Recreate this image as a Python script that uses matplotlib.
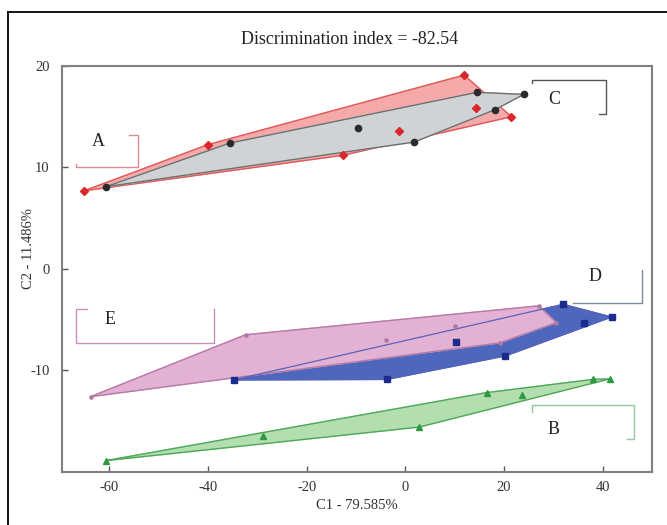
import matplotlib
matplotlib.use("Agg")
import matplotlib.pyplot as plt
from matplotlib.lines import Line2D
import numpy as np

plt.rcParams['font.family'] = ['Liberation Serif', 'DejaVu Serif']

# ---- data (C1, C2 scores) ----
A_x = [-65.1, -40.0, -12.6, -1.2, 11.9, 14.4, 21.5]
A_y = [7.7, 12.25, 11.2, 13.6, 19.1, 15.9, 15.0]

C_x = [-60.7, -35.6, -9.5, 1.8, 14.5, 18.2, 24.0]
C_y = [8.1, 12.4, 13.85, 12.5, 17.4, 15.7, 17.2]

E_x = [-63.8, -32.4, -4.0, 10.0, 27.0, 30.6, 19.1]
E_y = [-12.6, -6.5, -7.06, -5.65, -3.65, -5.3, -7.3]

D_x = [-34.8, -3.7, 10.2, 20.3, 32.0, 36.2, 41.8]
D_y = [-10.95, -10.9, -7.2, -8.58, -3.5, -5.35, -4.75]

B_x = [-60.6, -28.8, 2.8, 16.5, 23.7, 38.0, 41.4]
B_y = [-18.9, -16.5, -15.6, -12.2, -12.4, -10.9, -10.85]

x_ticks = [-60, -40, -20, 0, 20, 40]
y_ticks = [-10, 0, 10, 20]
title = "Discrimination index = -82.54"
xlabel = "C1 - 79.585%"
ylabel = "C2 - 11.486%"

# group label brackets (label text, label position, bracket polyline)
brackets = {
    'A': ((-63.5, 12.6), [(-66.7, 10.3), (-66.7, 10.0), (-54.3, 10.0), (-54.3, 13.2), (-56.0, 13.2)], '#e08a96'),
    'C': ((28.9, 16.7), [(25.7, 18.3), (25.7, 18.6), (40.7, 18.6), (40.7, 15.3), (39.3, 15.3)], '#555555'),
    'E': ((-61.0, -5.0), [(-64.6, -4.0), (-66.7, -4.0), (-66.7, -7.3), (-38.8, -7.3), (-38.8, -4.0)], '#c890b8'),
    'D': ((37.2, -0.75), [(48.0, -0.1), (48.0, -3.4), (33.9, -3.4)], '#7f8aa0'),
    'B': ((28.9, -15.8), [(25.7, -14.15), (25.7, -13.4), (46.4, -13.4), (46.4, -16.8), (45.0, -16.8)], '#90c8a0'),
}


def hull(xs, ys):
    pts = sorted(set(zip(xs, ys)))
    def cross(o, a, b):
        return (a[0]-o[0])*(b[1]-o[1]) - (a[1]-o[1])*(b[0]-o[0])
    lower, upper = [], []
    for p in pts:
        while len(lower) >= 2 and cross(lower[-2], lower[-1], p) <= 0:
            lower.pop()
        lower.append(p)
    for p in reversed(pts):
        while len(upper) >= 2 and cross(upper[-2], upper[-1], p) <= 0:
            upper.pop()
        upper.append(p)
    h = lower[:-1] + upper[:-1]
    h.append(h[0])
    return np.array(h)


fig = plt.figure(figsize=(6.67, 5.25), dpi=100)
ax = fig.add_axes([0.093, 0.1015, 0.8845, 0.7728])

# outer border (top and left visible)
fig.add_artist(Line2D([8/667, 8/667], [0, 1-12/525], color='black', lw=1.3, transform=fig.transFigure))
fig.add_artist(Line2D([8/667, 1], [1-12/525, 1-12/525], color='black', lw=1.3, transform=fig.transFigure))

hA = hull(A_x, A_y)
hC = hull(C_x, C_y)
hD = hull(D_x, D_y)
hE = hull(E_x, E_y)
hB = hull(B_x, B_y)

# A and C
ax.fill(hA[:, 0], hA[:, 1], color='#f6a9a9', zorder=1)
ax.plot(hA[:, 0], hA[:, 1], color='#e05a5a', lw=1.0, zorder=2)
ax.fill(hC[:, 0], hC[:, 1], color='#d0d3d6', zorder=3)
ax.plot(hC[:, 0], hC[:, 1], color='#6e6e6e', lw=1.0, zorder=4)

# D and E
ax.fill(hD[:, 0], hD[:, 1], color='#4d67bd', zorder=1)
ax.fill(hE[:, 0], hE[:, 1], color='#e3b1d3', zorder=2)
ax.plot(hE[:, 0], hE[:, 1], color='#b67aa5', lw=1.0, zorder=3)
ax.plot(hD[:, 0], hD[:, 1], color='#5a62b8', lw=0.9, zorder=3)

# B
ax.fill(hB[:, 0], hB[:, 1], color='#b3dfb0', zorder=1)
ax.plot(hB[:, 0], hB[:, 1], color='#4fa85a', lw=1.0, zorder=2)

# markers
ax.plot(A_x, A_y, 'D', color='#d8282e', ms=3.8, ls='none', zorder=6)
ax.plot(C_x, C_y, 'o', color='#2b2b2b', ms=4.5, ls='none', zorder=6)
ax.plot(D_x, D_y, 's', color='#1c2c8c', ms=4.0, ls='none', zorder=6)
ax.plot(E_x, E_y, 'o', color='#b07aa0', ms=2.3, ls='none', zorder=6)
ax.plot(B_x, B_y, '^', color='#2e9a40', ms=4.2, ls='none', zorder=6)

# bracket labels
for lab, (pos, poly, col) in brackets.items():
    pts = np.array(poly)
    ax.plot(pts[:, 0], pts[:, 1], color=col, lw=1.0, zorder=5)
    ax.text(pos[0], pos[1], lab, fontsize=13, ha='left', va='center', color='#222222', zorder=7)

ax.set_xlim(-69.6, 50)
ax.set_ylim(-20, 20)
ax.set_xticks(x_ticks)
ax.set_yticks(y_ticks)
ax.set_xticklabels([str(t) for t in x_ticks])
ax.set_yticklabels([str(t) for t in y_ticks])
ax.tick_params(direction='in', length=4, width=1, color='#555555', labelsize=10.5, labelcolor='#333333')
ax.tick_params(axis='y', pad=9)
ax.tick_params(axis='x', pad=7)
for s in ax.spines.values():
    s.set_color('#808080')
    s.set_linewidth(1.5)

ax.set_xlabel(xlabel, fontsize=10.5, color='#333333', labelpad=3)
ax.set_ylabel(ylabel, fontsize=10.5, color='#333333')
ax.yaxis.set_label_coords(-0.045, 0.55)
fig.text(350/667, 1-40/525, title, ha='center', va='center', fontsize=13, color='#222222')

fig.savefig('out.png', dpi=100)
